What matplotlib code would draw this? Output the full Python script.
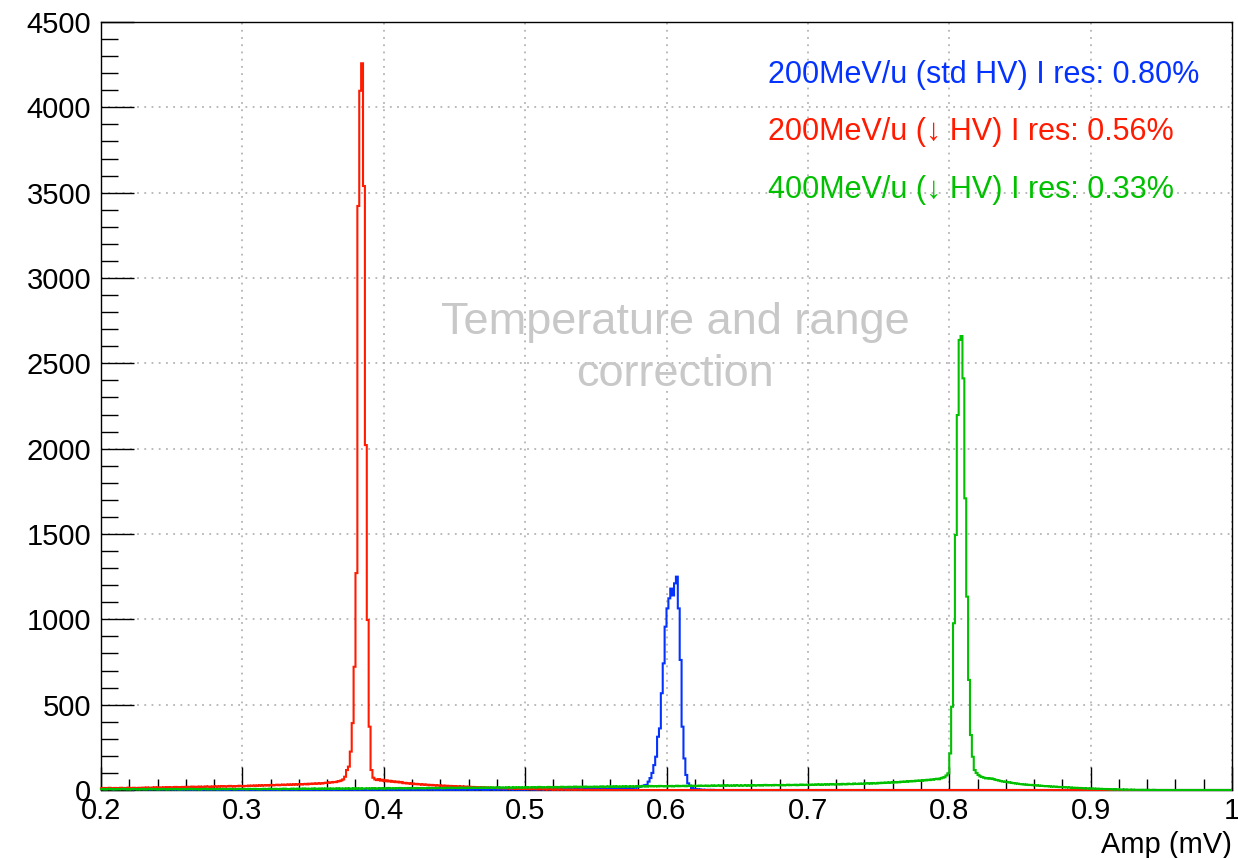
import numpy as np
import matplotlib
matplotlib.use("Agg")
import matplotlib.pyplot as plt
from matplotlib.ticker import MultipleLocator, FuncFormatter

plt.rcParams['font.family'] = ['Liberation Sans', 'DejaVu Sans']

# histogram binning: 600 bins between 0.2 and 1.0 mV
x_min, x_max, n_bins = 0.2, 1.0, 600

# counts per bin, starting at the first bin; bins after the list are empty
red_counts = [
    10, 12, 9, 11, 13, 10, 8, 12, 11, 9, 13, 12, 10, 11, 14, 12, 10, 13, 11, 12,
    13, 11, 14, 12, 15, 13, 12, 14, 16, 13, 15, 14, 13, 16, 15, 17, 14, 16, 15, 18,
    16, 17, 15, 18, 17, 19, 16, 18, 20, 17, 19, 18, 20, 19, 17, 21, 19, 20, 18, 21,
    20, 22, 19, 21, 23, 20, 22, 21, 24, 22, 20, 23, 22, 25, 23, 21, 24, 23, 26, 24,
    25, 27, 24, 26, 28, 25, 27, 29, 26, 28, 30, 27, 29, 31, 28, 30, 32, 29, 31, 33,
    30, 32, 34, 31, 33, 35, 32, 34, 36, 33, 37, 35, 38, 36, 39, 37, 40, 38, 41, 43,
    42, 45, 44, 47, 46, 50, 52, 56, 62, 78,
    117, 137, 225, 392, 722, 1271, 3422, 4097, 4258, 3539, 2021, 996, 371,
    117, 72, 62, 58, 64, 55, 60, 52, 57, 50, 54, 48, 51, 46, 49, 44, 47,
    40, 42, 38, 40, 36, 38, 34, 36, 33, 34, 31, 33, 30, 31, 28, 30, 27, 28, 26, 27,
    25, 26, 24, 25, 23, 24, 22, 23, 21, 22, 20, 21, 19, 20, 18, 19, 17, 18, 16, 17,
    16, 15, 16, 14, 15, 13, 14, 12, 13, 12, 11, 12, 10, 11, 10, 9, 10, 9, 8, 9,
    8, 7, 8, 7, 6, 7, 6, 5, 6, 5, 5, 4, 5, 4, 4, 3, 4, 3, 3, 4,
    3, 2, 3, 2, 3, 2, 2, 1, 2, 2, 1, 2, 1, 1, 2, 1, 1, 0, 1, 1,
    0, 1, 0, 1, 0, 0, 1,
]

blue_counts = [
    6, 8, 5, 7, 9, 6, 4, 7, 8, 5, 6, 9, 7, 5, 8, 6, 4, 7, 5, 6,
    5, 7, 4, 6, 5, 3, 6, 4, 5, 7, 4, 3, 5, 4, 6, 3, 5, 4, 3, 4,
    3, 4, 2, 3, 5, 3, 2, 4, 3, 2, 3, 4, 2, 3, 2, 4, 3, 2, 3, 2,
    2, 3, 1, 2, 3, 2, 1, 2, 3, 2, 2, 1, 3, 2, 1, 2, 2, 3, 1, 2,
    2, 1, 2, 3, 1, 2, 2, 1, 2, 1, 3, 2, 1, 2, 1, 2, 2, 1, 2, 1,
    1, 2, 1, 2, 1, 1, 2, 1, 2, 1, 1, 2, 1, 1, 2, 1, 1, 2, 1, 1,
    2, 1, 1, 2, 1, 1, 1, 2, 1, 1, 2, 1, 1, 1, 2, 1, 1, 2, 1, 1,
    1, 2, 1, 1, 1, 2, 1, 1, 2, 1, 1, 1, 2, 1, 1, 2, 1, 1, 1, 2,
    1, 1, 2, 1, 1, 2, 1, 2, 1, 1, 2, 1, 2, 1, 1, 2, 2, 1, 2, 1,
    2, 1, 2, 2, 1, 2, 1, 2, 2, 1, 2, 2, 1, 2, 2, 3, 1, 2, 2, 3,
    2, 2, 3, 1, 2, 3, 2, 2, 3, 2, 3, 2, 2, 3, 2, 3, 3, 2, 3, 2,
    3, 3, 2, 3, 4, 2, 3, 3, 4, 3, 2, 4, 3, 3, 4, 3, 4, 3, 4, 4,
    3, 4, 5, 3, 4, 5, 4, 3, 5, 4, 5, 4, 6, 4, 5, 5, 6, 5, 4, 6,
    6, 5, 7, 6, 5, 7, 6, 8, 6, 7, 8, 7, 9, 8, 7, 10, 9, 8, 11, 10,
    12, 11, 14, 13, 16, 18, 21, 24, 27,
    30, 49, 70, 100, 146, 195, 312, 361, 567, 742, 957, 1064, 1123,
    1180, 1140, 1211, 1250, 1064, 762, 371, 185, 88, 39, 25, 12, 8,
    5, 4, 3, 2, 2, 1, 1, 1, 0, 1,
]

green_counts = [
    4, 6, 3, 5, 7, 4, 5, 3, 6, 4, 5, 7, 4, 6, 3, 5, 4, 6, 5, 3,
    5, 4, 6, 3, 5, 7, 4, 5, 6, 4, 3, 5, 6, 4, 5, 3, 6, 5, 4, 6,
    5, 3, 6, 4, 5, 6, 4, 7, 5, 4, 6, 5, 3, 6, 5, 7, 4, 5, 6, 4,
    6, 5, 4, 7, 5, 6, 4, 5, 7, 6, 5, 4, 6, 7, 5, 6, 5, 4, 7, 6,
    5, 7, 6, 4, 6, 5, 7, 6, 5, 8, 6, 5, 7, 6, 4, 7, 6, 8, 5, 6,
    6, 8, 7, 5, 8, 6, 7, 9, 6, 8, 7, 6, 9, 7, 8, 6, 9, 8, 7, 9,
    8, 7, 9, 6, 8, 10, 7, 9, 8, 7, 10, 8, 9, 7, 10, 9, 8, 10, 7, 9,
    9, 10, 8, 9, 11, 8, 10, 9, 11, 8, 10, 9, 12, 9, 10, 11, 9, 10, 12, 9,
    11, 10, 9, 12, 10, 11, 9, 12, 11, 10, 12, 9, 11, 13, 10, 12, 11, 10, 13, 11,
    12, 10, 13, 11, 12, 14, 11, 12, 13, 11, 14, 12, 13, 11, 14, 13, 12, 14, 12, 13,
    14, 12, 13, 15, 12, 14, 13, 15, 12, 14, 16, 13, 15, 14, 13, 16, 14, 15, 13, 16,
    15, 14, 16, 13, 15, 17, 14, 16, 15, 17, 14, 16, 18, 15, 17, 16, 15, 18, 16, 17,
    16, 18, 15, 17, 19, 16, 18, 17, 19, 16, 18, 20, 17, 19, 18, 17, 20, 18, 19, 17,
    19, 18, 20, 17, 19, 21, 18, 20, 19, 21, 18, 20, 22, 19, 21, 20, 19, 22, 20, 21,
    20, 22, 19, 21, 23, 20, 22, 21, 23, 20, 22, 24, 21, 23, 22, 21, 24, 22, 23, 21,
    23, 22, 24, 21, 23, 25, 22, 24, 23, 25, 22, 24, 26, 23, 25, 24, 23, 26, 24, 25,
    24, 26, 23, 25, 27, 24, 26, 25, 27, 24, 26, 28, 25, 27, 26, 25, 28, 26, 27, 25,
    27, 26, 28, 25, 27, 29, 26, 28, 27, 29, 26, 28, 30, 27, 29, 28, 27, 30, 28, 29,
    28, 30, 27, 29, 31, 28, 30, 29, 31, 28, 30, 32, 29, 31, 30, 29, 32, 30, 31, 33,
    31, 33, 30, 32, 34, 31, 33, 35, 32, 34, 33, 35, 32, 36, 34, 33, 37, 35, 34, 38,
    36, 35, 38, 37, 36, 39, 38, 40, 37, 41, 39, 38, 42, 40, 43, 41, 44, 42, 45, 43,
    46, 44, 47, 45, 49, 47, 50, 48, 52, 50, 53, 51, 55, 53, 56, 54, 58, 56, 60, 58,
    62, 60, 64, 66, 63, 68, 72, 75, 85, 98,
    214, 488, 977, 1494, 2197, 2637, 2660, 2412, 1709, 1133, 645, 322, 195,
    117, 100, 88, 80, 76, 72, 68, 70, 66, 68, 64,
    60, 58, 55, 52, 50, 48,
    47, 45, 44, 41, 40, 38, 37, 35, 34, 33,
    32, 31, 29, 30, 28, 27, 28, 26, 25, 24,
    23, 22, 23, 21, 20, 19, 20, 18, 17, 18,
    16, 17, 15, 14, 15, 13, 12, 13, 11, 12,
    10, 11, 9, 10, 8, 9, 8, 7, 8, 6,
    7, 6, 5, 6, 5, 4, 5, 4, 3, 4,
    3, 3, 2, 3, 2, 2, 1, 2, 1, 1,
    1, 1, 0, 1, 0, 1, 0, 0, 1,
]

labels = [
    "200MeV/u (std HV) I res: 0.80%",
    "200MeV/u (\u2193 HV) I res: 0.56%",
    "400MeV/u (\u2193 HV) I res: 0.33%",
]
colors = ['#0433ff', '#ff1a00', '#00c000']


def full_hist(vals):
    h = np.zeros(n_bins)
    h[:len(vals)] = vals
    return h


edges = np.linspace(x_min, x_max, n_bins + 1)

W, H = 1238, 858
fig = plt.figure(figsize=(W / 100, H / 100), dpi=100)
ax = fig.add_axes([101 / W, 68 / H, 1131 / W, 768 / H])

for vals, c in zip([blue_counts, red_counts, green_counts], colors):
    ax.stairs(full_hist(vals), edges, color=c, lw=1.5, zorder=3, clip_on=False)

ax.set_xlim(x_min, x_max)
ax.set_ylim(0, 4500)

ax.xaxis.set_major_locator(MultipleLocator(0.1))
ax.xaxis.set_minor_locator(MultipleLocator(0.02))
ax.yaxis.set_major_locator(MultipleLocator(500))
ax.yaxis.set_minor_locator(MultipleLocator(100))
ax.xaxis.set_major_formatter(FuncFormatter(lambda v, p: f"{v:g}"))
ax.yaxis.set_major_formatter(FuncFormatter(lambda v, p: f"{v:g}"))

ax.tick_params(axis='x', which='major', direction='in', length=16.5, width=1,
               labelsize=21, pad=5)
ax.tick_params(axis='x', which='minor', direction='in', length=8, width=1)
ax.tick_params(axis='y', which='major', direction='in', length=24, width=1,
               labelsize=21, pad=7)
ax.tick_params(axis='y', which='minor', direction='in', length=12, width=1)

ax.grid(True, which='major', color='#b4b4b4', linestyle=(0, (1, 3)), lw=1.3)
ax.set_axisbelow(True)
for s in ax.spines.values():
    s.set_linewidth(1.0)

fig.text(1232 / W, 1 - 853 / H, "Amp (mV)", ha='right', va='baseline', fontsize=21)

# legend entries as coloured text
for lab, c, yb in zip(labels, colors, [83, 140, 198]):
    fig.text(768 / W, 1 - yb / H, lab, color=c, fontsize=22, ha='left', va='baseline')

fig.text(675 / W, 1 - 334 / H, "Temperature and range", color='#c8c8c8',
         fontsize=32.5, ha='center', va='baseline')
fig.text(675 / W, 1 - 386 / H, "correction", color='#c8c8c8',
         fontsize=32.5, ha='center', va='baseline')

fig.savefig("out.png", dpi=100)
